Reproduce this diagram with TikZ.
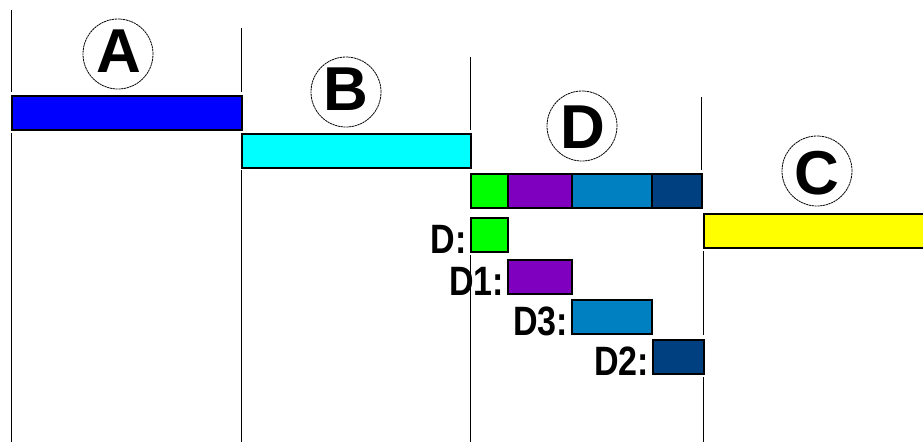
\documentclass[tikz,border=0pt]{standalone}
\usepackage{fontspec}
\setmainfont{Liberation Sans}
\begin{document}
\begin{tikzpicture}[x=1pt,y=-1pt,
  bar/.style={draw=black,line width=1.5pt,inner sep=0pt,anchor=north west,minimum height=34pt},
  vline/.style={draw=black,line width=1pt},
  ring/.style={draw=black,line width=0.8pt,dash pattern=on 2.2pt off 0.6pt,circle,minimum size=70pt,inner sep=0pt},
  big/.style={font=\bfseries\fontsize{62}{62}\selectfont,inner sep=0pt},
  lab/.style={font=\bfseries\fontsize{41}{41}\selectfont,inner sep=0pt,xscale=0.83,anchor=base east}
]
\definecolor{cA}{HTML}{0000FF}
\definecolor{cB}{HTML}{00FFFF}
\definecolor{cC}{HTML}{FFFF00}
\definecolor{cD}{HTML}{00FF00}
\definecolor{cDa}{HTML}{7F00BF}
\definecolor{cDb}{HTML}{0080C0}
\definecolor{cDc}{HTML}{004080}
\useasboundingbox[fill=white] (0,0) rectangle (923,442);

% vertical lines
\draw[vline] (11,10) -- (11,92);
\draw[vline] (11,133) -- (11,442);
\draw[vline] (241,28) -- (241,92);
\draw[vline] (241,170) -- (241,442);
\draw[vline] (470,57) -- (470,130);
\draw[vline] (470,255) -- (470,442);
\draw[vline] (701,97) -- (701,170);
\draw[vline] (703,251) -- (703,335);
\draw[vline] (703,377) -- (703,442);

% main bars
\node[bar,fill=cA,minimum width=230pt] (barA) at (11,95) {};
\node[bar,fill=cB,minimum width=229pt] (barB) at (241,133) {};
\node[bar,fill=cC,minimum width=222pt] (barC) at (703,213) {};
\node[bar,fill=cD,minimum width=37pt] (dg) at (470,173) {};
\node[bar,fill=cDa,minimum width=64pt] (dp) at (507,173) {};
\node[bar,fill=cDb,minimum width=80pt] (db) at (571,173) {};
\node[bar,fill=cDc,minimum width=50pt] (dd) at (651,173) {};

% sub bars
\node[bar,fill=cD,minimum width=37pt] (sD) at (470,217) {};
\node[bar,fill=cDa,minimum width=64pt] (sD1) at (507,259) {};
\node[bar,fill=cDb,minimum width=80pt] (sD3) at (571,299) {};
\node[bar,fill=cDc,minimum width=51pt] (sD2) at (652,339) {};

% labels
\node[lab] (lD) at ([xshift=-3pt,yshift=-1pt]sD.south west) {D:};
\node[lab] (lD1) at ([xshift=-3pt,yshift=-1pt]sD1.south west) {D1:};
\node[lab] (lD3) at ([xshift=-3pt,yshift=-1pt]sD3.south west) {D3:};
\node[lab] (lD2) at ([xshift=-3pt,yshift=-1pt]sD2.south west) {D2:};

% circles with letters
\node[ring] (cirA) at (118,54) {};
\node[big] (tA) at (119,51) {A};
\node[ring] (cirB) at (346,92) {};
\node[big] (tB) at (346,89) {B};
\node[ring] (cirD) at (582,126) {};
\node[big] (tD) at (583,127) {D};
\node[ring] (cirC) at (817,171) {};
\node[big] (tC) at (817,173) {C};
\end{tikzpicture}
\end{document}
